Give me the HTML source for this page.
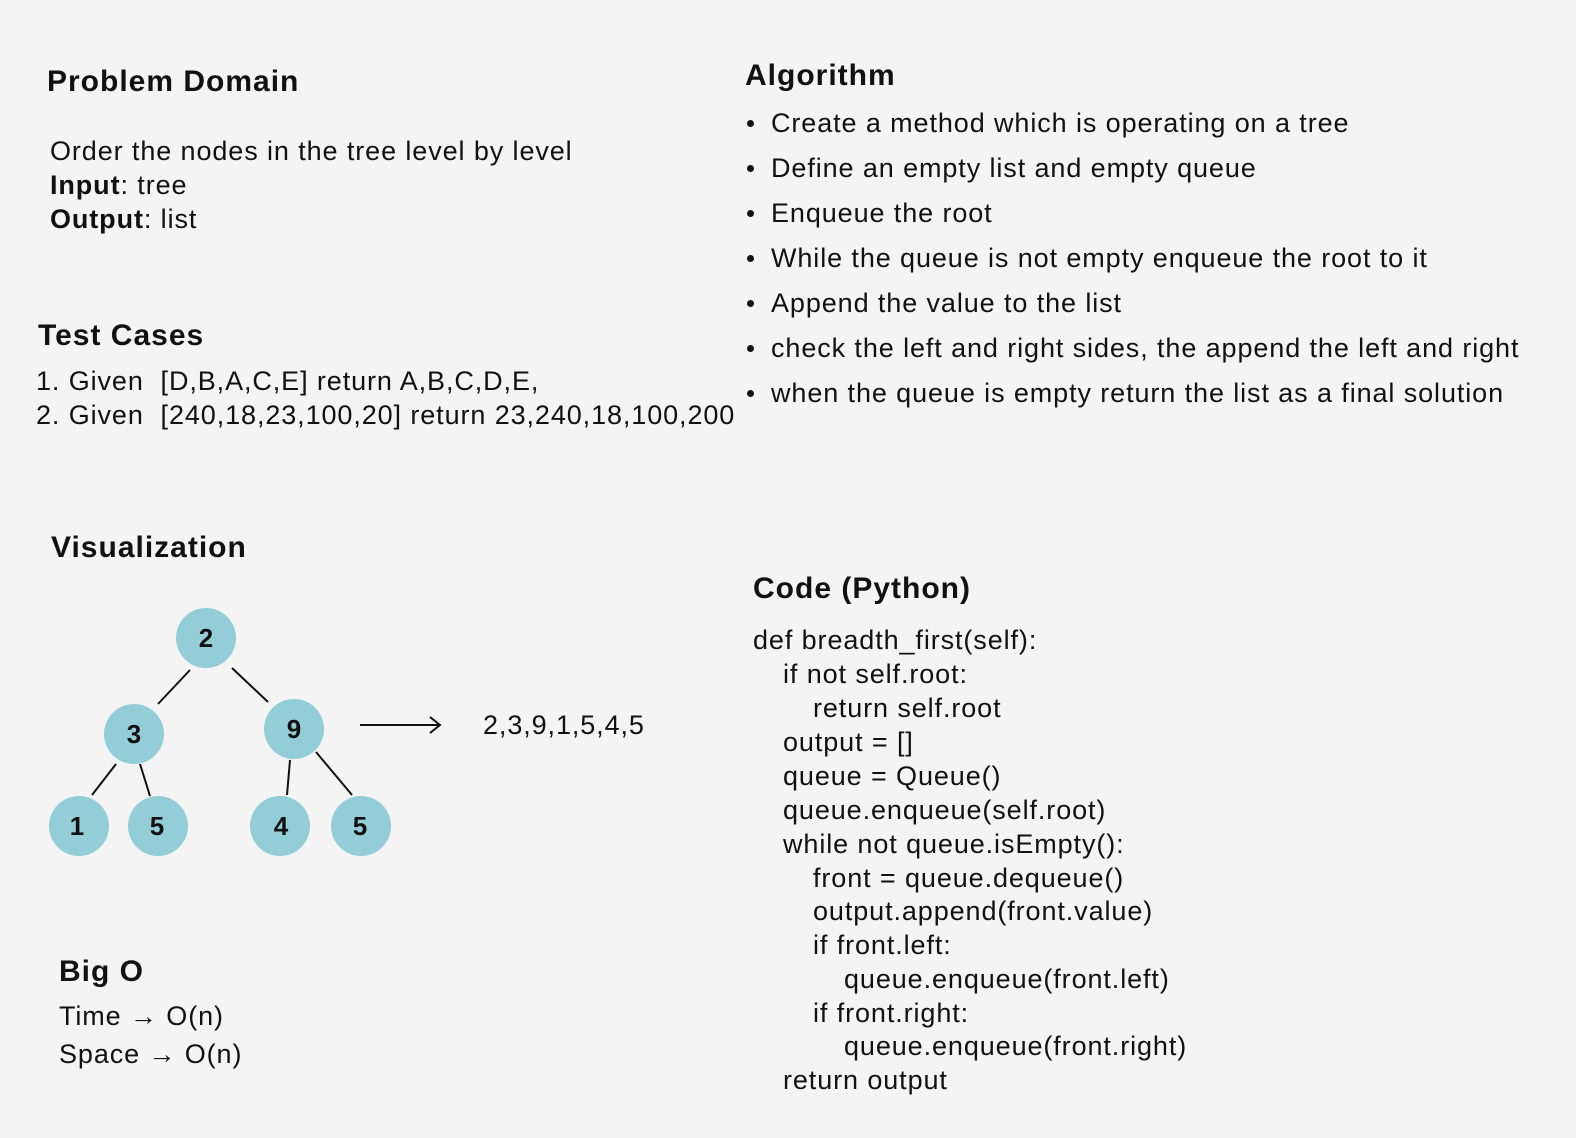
<!DOCTYPE html>
<html><head><meta charset="utf-8"><style>
html,body{margin:0;padding:0}
body{width:1576px;height:1138px;background:#f4f4f4;position:relative;overflow:hidden;font-family:"Liberation Sans",sans-serif;color:#111}
.t{position:absolute;white-space:nowrap;font-size:27px;letter-spacing:0.9px;line-height:34px;transform:translateY(calc(-50% + 3px))}
.h{position:absolute;white-space:nowrap;font-size:30px;letter-spacing:1px;font-weight:bold;line-height:36px;transform:translateY(calc(-50% + 3px))}
.dot{position:absolute;width:7px;height:7px;border-radius:50%;background:#111}
</style></head><body>
<div class="h" style="left:47px;top:79px">Problem Domain</div>
<div class="t" style="left:50px;top:148px">Order the nodes in the tree level by level</div>
<div class="t" style="left:50px;top:182px"><b>Input</b>: tree</div>
<div class="t" style="left:50px;top:216px"><b>Output</b>: list</div>

<div class="h" style="left:38px;top:333px">Test Cases</div>
<div class="t" style="left:36px;top:378px">1. Given&nbsp; [D,B,A,C,E] return A,B,C,D,E,</div>
<div class="t" style="left:36px;top:412px">2. Given&nbsp; [240,18,23,100,20] return 23,240,18,100,200</div>

<div class="h" style="left:745px;top:73px">Algorithm</div>
<div class="dot" style="left:747px;top:120px"></div><div class="t" style="left:771px;top:120px">Create a method which is operating on a tree</div>
<div class="dot" style="left:747px;top:165px"></div><div class="t" style="left:771px;top:165px">Define an empty list and empty queue</div>
<div class="dot" style="left:747px;top:210px"></div><div class="t" style="left:771px;top:210px">Enqueue the root</div>
<div class="dot" style="left:747px;top:255px"></div><div class="t" style="left:771px;top:255px">While the queue is not empty enqueue the root to it</div>
<div class="dot" style="left:747px;top:300px"></div><div class="t" style="left:771px;top:300px">Append the value to the list</div>
<div class="dot" style="left:747px;top:345px"></div><div class="t" style="left:771px;top:345px">check the left and right sides, the append the left and right</div>
<div class="dot" style="left:747px;top:390px"></div><div class="t" style="left:771px;top:390px">when the queue is empty return the list as a final solution</div>

<div class="h" style="left:51px;top:545px">Visualization</div>
<svg style="position:absolute;left:0;top:0" width="1576" height="1138">
<g stroke="#111" stroke-width="2">
<line x1="190" y1="670" x2="158" y2="704"/><line x1="232" y1="668" x2="268" y2="702"/>
<line x1="116" y1="764" x2="92" y2="795"/><line x1="140" y1="764" x2="150" y2="796"/>
<line x1="290" y1="760" x2="287" y2="795"/><line x1="316" y1="752" x2="352" y2="795"/>
<line x1="360" y1="725" x2="440" y2="725"/><polyline points="430,717 440,725 430,733" fill="none"/>
</g>
<g fill="#92cdd8">
<circle cx="206" cy="638" r="30"/><circle cx="134" cy="734" r="30"/><circle cx="294" cy="729" r="30"/>
<circle cx="79" cy="826" r="30"/><circle cx="158" cy="826" r="30"/><circle cx="280" cy="826" r="30"/><circle cx="361" cy="826" r="30"/>
</g>
<g font-family="Liberation Sans,sans-serif" font-weight="bold" font-size="26" text-anchor="middle" fill="#111">
<text x="206" y="647">2</text><text x="134" y="743">3</text><text x="294" y="738">9</text>
<text x="77" y="835">1</text><text x="157" y="835">5</text><text x="281" y="835">4</text><text x="360" y="835">5</text>
</g>
</svg>
<div class="t" style="left:483px;top:722px">2,3,9,1,5,4,5</div>

<div class="h" style="left:753px;top:586px">Code (Python)</div>
<div class="t" style="left:753px;top:637px">def breadth_first(self):</div>
<div class="t" style="left:783px;top:671px">if not self.root:</div>
<div class="t" style="left:813px;top:705px">return self.root</div>
<div class="t" style="left:783px;top:739px">output = []</div>
<div class="t" style="left:783px;top:773px">queue = Queue()</div>
<div class="t" style="left:783px;top:807px">queue.enqueue(self.root)</div>
<div class="t" style="left:783px;top:841px">while not queue.isEmpty():</div>
<div class="t" style="left:813px;top:875px">front = queue.dequeue()</div>
<div class="t" style="left:813px;top:908px">output.append(front.value)</div>
<div class="t" style="left:813px;top:942px">if front.left:</div>
<div class="t" style="left:844px;top:976px">queue.enqueue(front.left)</div>
<div class="t" style="left:813px;top:1010px">if front.right:</div>
<div class="t" style="left:844px;top:1043px">queue.enqueue(front.right)</div>
<div class="t" style="left:783px;top:1077px">return output</div>

<div class="h" style="left:59px;top:969px">Big O</div>
<div class="t" style="left:59px;top:1013px">Time → O(n)</div>
<div class="t" style="left:59px;top:1051px">Space → O(n)</div>
</body></html>
